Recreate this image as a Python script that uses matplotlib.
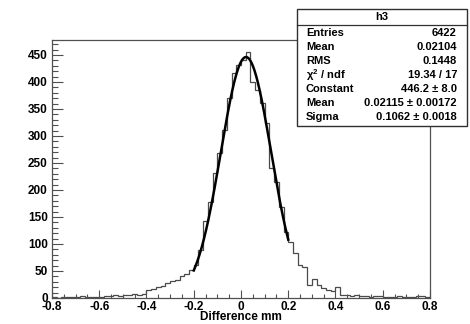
import matplotlib
matplotlib.use('Agg')
import matplotlib.pyplot as plt
import numpy as np
from matplotlib.patches import Rectangle
from matplotlib.lines import Line2D

plt.rcParams['font.family'] = ['Liberation Sans', 'DejaVu Sans']
plt.rcParams['font.weight'] = 'bold'
plt.rcParams['mathtext.default'] = 'regular'

# h3 : 80 bins from -0.8 to 0.8
n_bins = 80
x_min, x_max = -0.8, 0.8
counts = [
    1, 0, 2, 1, 2, 1, 3, 2, 1, 2,
    1, 3, 4, 5, 4, 6, 5, 7, 6, 8,
    15, 16, 20, 22, 28, 31, 34, 40, 45, 52,
    62, 88, 142, 178, 232, 268, 311, 370, 416, 431,
    440, 455, 400, 385, 361, 324, 240, 215, 169, 122,
    104, 83, 61, 58, 24, 35, 24, 19, 15, 13,
    21, 6, 5, 4, 5, 3, 4, 2, 3, 3,
    2, 2, 1, 3, 2, 1, 2, 3, 4, 2,
]

# gaus fit parameters
fit_const, fit_mean, fit_sigma = 446.2, 0.02115, 0.1062
fit_range = (-0.2, 0.2)

# stats box
stat_title = 'h3'
stat_names = ['Entries', 'Mean', 'RMS', r'$\chi^{2}$ / ndf', 'Constant', 'Mean', 'Sigma']
stat_values = ['6422', '0.02104', '0.1448', '19.34 / 17',
               '446.2 ± 8.0', '0.02115 ± 0.00172', '0.1062 ± 0.0018']

edges = np.linspace(x_min, x_max, n_bins + 1)

fig = plt.figure(figsize=(4.7, 3.24), dpi=100)
ax = fig.add_axes([52 / 470, 1 - 298 / 324, 378 / 470, 258 / 324])

ax.stairs(counts, edges, color='#4a4a4a', linewidth=0.9)

xf = np.linspace(fit_range[0], fit_range[1], 300)
yf = fit_const * np.exp(-0.5 * ((xf - fit_mean) / fit_sigma) ** 2)
ax.plot(xf, yf, color='black', linewidth=1.8)

ax.set_xlim(x_min, x_max)
ax.set_ylim(0, 1.05 * max(counts))
ax.set_xticks(np.arange(-0.8, 0.81, 0.2))
ax.set_xticklabels(['-0.8', '-0.6', '-0.4', '-0.2', '0', '0.2', '0.4', '0.6', '0.8'])
ax.set_xticks(np.arange(-0.8, 0.81, 0.05), minor=True)
ax.set_yticks(np.arange(0, 451, 50))
ax.set_yticks(np.arange(0, 471, 10), minor=True)

ax.tick_params(axis='both', which='both', direction='in', colors='#505050',
               labelcolor='black', labelsize=8.5, width=0.8)
ax.tick_params(axis='x', which='major', length=6, pad=2)
ax.tick_params(axis='x', which='minor', length=3)
ax.tick_params(axis='y', which='major', length=8, pad=3)
ax.tick_params(axis='y', which='minor', length=4)
for s in ax.spines.values():
    s.set_color('#505050')
    s.set_linewidth(0.9)

ax.set_xlabel('Difference mm', fontsize=8.5, fontweight='bold', labelpad=-1)

# stats box
bx0, bx1 = 297 / 470, 467 / 470
by0, by1 = 1 - 126 / 324, 1 - 9 / 324
fig.patches.append(Rectangle((bx0, by0), bx1 - bx0, by1 - by0, transform=fig.transFigure,
                             facecolor='white', edgecolor='#303030', linewidth=1.0, zorder=5))
fig.lines.append(Line2D([bx0, bx1], [1 - 25 / 324, 1 - 25 / 324], transform=fig.transFigure,
                        color='#303030', linewidth=0.9, zorder=6))
fig.text((bx0 + bx1) / 2, 1 - 17 / 324, stat_title, ha='center', va='center',
         fontsize=8, fontweight='bold', zorder=7)
for i, (name, val) in enumerate(zip(stat_names, stat_values)):
    yy = 1 - (32.7 + 14.1 * i) / 324
    fig.text(306 / 470, yy, name, ha='left', va='center', fontsize=8,
             fontweight='bold', zorder=7)
    fig.text(457 / 470, yy, val, ha='right', va='center', fontsize=8,
             fontweight='bold', zorder=7)

fig.savefig('out.png', dpi=100, facecolor='white')
